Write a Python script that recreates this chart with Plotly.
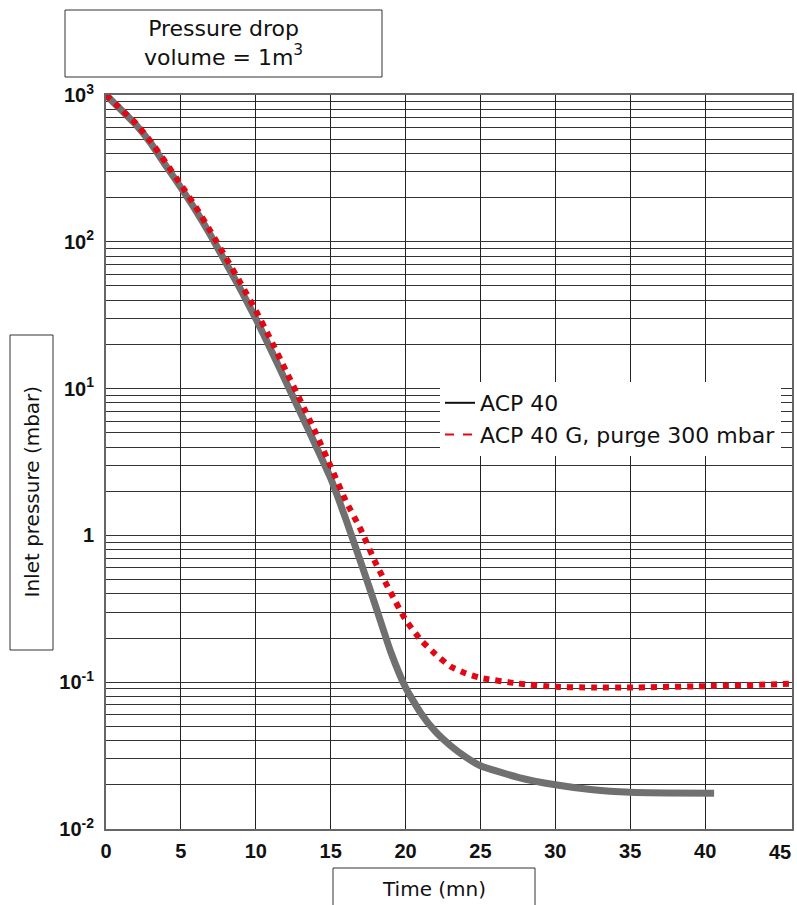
import plotly.graph_objects as go

# ---- data ----
time_acp40 = [0, 1, 2, 3, 4, 5, 6, 7, 8, 9, 10, 11, 12, 13, 14, 15, 16, 17, 18, 19, 20, 21, 22, 23, 24, 25, 27.5, 30, 32.5, 35, 37.5, 40.6]
p_acp40 = [1000, 795, 627, 468, 330, 234, 163, 110, 72, 47, 30, 18.5, 11.2, 6.8, 4.1, 2.45, 1.3, 0.66, 0.33, 0.162, 0.092, 0.062, 0.046, 0.037, 0.031, 0.027, 0.0225, 0.020, 0.0185, 0.0178, 0.0176, 0.0175]

time_acp40g = [0, 1, 2, 3, 4, 5, 6, 7, 8, 9, 10, 11, 12, 13, 14, 15, 16, 17, 18, 19, 20, 21, 22, 23, 24, 25, 27.5, 30, 32.5, 35, 40, 45, 46]
p_acp40g = [1000, 800, 640, 480, 345, 245, 172, 117, 78, 52, 34, 21.5, 13.3, 8.2, 5.0, 2.95, 1.73, 1.1, 0.65, 0.41, 0.266, 0.195, 0.155, 0.128, 0.115, 0.107, 0.098, 0.093, 0.092, 0.092, 0.094, 0.097, 0.098]

x_ticks = [0, 5, 10, 15, 20, 25, 30, 35, 40, 45]
y_decades = [0.01, 0.1, 1, 10, 100, 1000]
y_decade_labels = ["10<sup>-2</sup>", "10<sup>-1</sup>", "1", "10<sup>1</sup>", "10<sup>2</sup>", "10<sup>3</sup>"]

series_names = ["ACP 40", "ACP 40 G, purge 300 mbar"]
title_text = "Pressure drop<br>volume = 1m<sup>3</sup>"
y_title = "Inlet pressure (mbar)"
x_title = "Time (mn)"

# ---- layout geometry ----
W, H = 797, 905
L, R, T, B = 106, 5, 95, 76
pw, ph = W - L - R, H - T - B
X_MAX = 45.8

def px(xp):
    return (xp - L) / pw

def py(yp):
    return (H - B - yp) / ph

# minor log grid values (2..9 in each decade)
y_minor = []
for d in y_decades[:-1]:
    for m in range(2, 10):
        y_minor.append(round(d * m, 6))

fig = go.Figure()

fig.add_trace(go.Scatter(
    x=time_acp40, y=p_acp40, mode="lines", showlegend=False,
    line=dict(color="#707070", width=7, shape="spline", smoothing=0.5)))
fig.add_trace(go.Scatter(
    x=time_acp40g, y=p_acp40g, mode="lines", showlegend=False,
    line=dict(color="#e30613", width=6, dash="dot", shape="spline", smoothing=0.5)))

# legend-only entries
fig.add_trace(go.Scatter(x=[None], y=[None], mode="lines", name=series_names[0],
                         line=dict(color="#111111", width=2)))
fig.add_trace(go.Scatter(x=[None], y=[None], mode="lines", name=series_names[1],
                         line=dict(color="#e30613", width=2, dash="dash")))

label_font = "DejaVu Sans, Verdana, sans-serif"
tick_font = "Liberation Sans, Arial, sans-serif"

fig.update_layout(
    template="none",
    width=W, height=H,
    margin=dict(l=L, r=R, t=T, b=B, pad=0),
    paper_bgcolor="white", plot_bgcolor="white",
    font=dict(family=label_font, color="#111111"),
    legend=dict(x=px(440), y=py(382), xanchor="left", yanchor="top",
                bgcolor="white", borderwidth=0, font=dict(size=22, color="#111111", family=label_font),
                itemwidth=30, tracegroupgap=0),
    showlegend=True,
)

fig.update_xaxes(
    range=[0, X_MAX], tickvals=x_ticks[:-1], ticktext=[str(v) for v in x_ticks[:-1]],
    showgrid=True, gridcolor="#222222", gridwidth=1,
    showline=True, linecolor="#666666", linewidth=2, mirror=True,
    ticks="", zeroline=False, automargin=False, ticklabelstandoff=3,
    tickfont=dict(size=20, color="#111111", weight="bold", family=tick_font),
)
fig.update_yaxes(
    type="log", range=[-2, 3], tickvals=y_decades, ticktext=y_decade_labels,
    showgrid=True, gridcolor="#333333", gridwidth=1,
    minor=dict(tickmode="array", tickvals=y_minor, showgrid=True, gridcolor="#333333", gridwidth=1, ticks=""),
    showline=True, linecolor="#666666", linewidth=2, mirror=True,
    ticks="", zeroline=False, automargin=False, ticklabelstandoff=6,
    tickfont=dict(size=20, color="#111111", weight="bold", family=tick_font),
)

# last x tick label (no gridline at 45 in the original)
fig.add_annotation(xref="x", yref="paper", x=x_ticks[-1], y=py(852),
                   text=str(x_ticks[-1]), showarrow=False, xanchor="center", yanchor="middle",
                   font=dict(size=20, color="#111111", weight="bold", family=tick_font))

# boxed labels
boxes = [
    (65, 10, 382, 77, 43.5, title_text, 0, 22),
    (10, 335, 53, 650, 492, y_title, -90, 20),
    (333, 868, 535, 915, 889, x_title, 0, 20),
]
for x0, y0, x1, y1, cy, txt, ang, fs in boxes:
    fig.add_shape(type="rect", xref="paper", yref="paper",
                  x0=px(x0), x1=px(x1), y0=py(y1), y1=py(y0),
                  line=dict(color="#333333", width=1), fillcolor="white", layer="above")
    fig.add_annotation(xref="paper", yref="paper", x=px((x0 + x1) / 2), y=py(cy),
                       text=txt, showarrow=False, textangle=ang,
                       font=dict(size=fs, color="#111111", family=label_font),
                       xanchor="center", yanchor="middle")

fig.write_html("out.html", config={"displayModeBar": False},
               post_script="document.body.style.margin='0';document.body.style.overflow='hidden';")
